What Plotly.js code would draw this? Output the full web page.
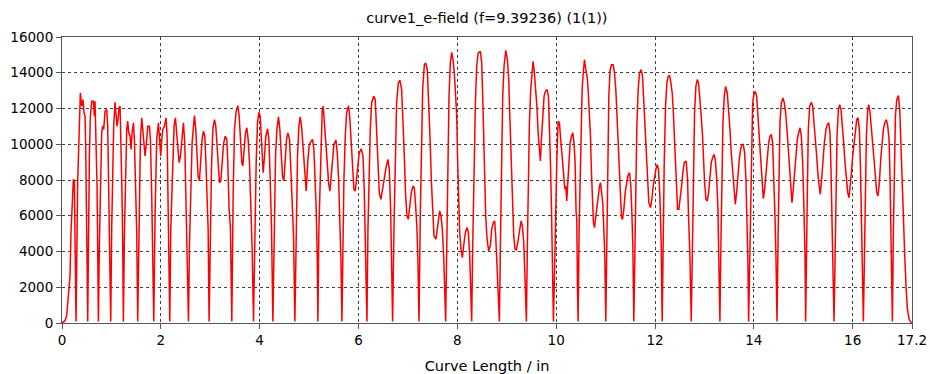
<!DOCTYPE html>
<html>
<head>
<meta charset="utf-8">
<script src="https://cdn.plot.ly/plotly-3.0.1.min.js"></script>
<style>html,body{margin:0;padding:0;background:#fff;}#chart{width:930px;height:374px;}</style>
</head>
<body>
<div id="chart"></div>
<script>
// Curve length (in), one line per lobe between field nulls
const curveLengthIn = [
  0, 0.061, 0.095, 0.128, 0.162, 0.182, 0.209, 0.230, 0.250, 0.263, 0.284,
  0.317, 0.344, 0.371, 0.398, 0.425, 0.446, 0.466, 0.479, 0.493, 0.506, 0.520,
  0.533, 0.554, 0.574, 0.601, 0.635, 0.655, 0.668, 0.689, 0.709, 0.722, 0.736,
  0.756, 0.783, 0.803, 0.824, 0.844, 0.871, 0.905, 0.925, 0.938, 0.959, 0.986,
  1.006, 1.026, 1.046, 1.073, 1.094, 1.114, 1.134, 1.154, 1.175, 1.195, 1.215, 1.229, 1.242,
  1.262, 1.283, 1.310, 1.330, 1.350, 1.377, 1.397, 1.418, 1.445, 1.465, 1.492, 1.512, 1.532,
  1.560, 1.587, 1.614, 1.634, 1.661, 1.681, 1.708, 1.735, 1.769, 1.789, 1.816, 1.836, 1.857,
  1.884, 1.917, 1.951, 1.978, 1.998, 2.019, 2.039, 2.073, 2.106, 2.127, 2.140, 2.160, 2.181,
  2.201, 2.235, 2.268, 2.295, 2.316, 2.343, 2.370, 2.397, 2.424, 2.457, 2.484, 2.511, 2.538, 2.559,
  2.579, 2.606, 2.633, 2.660, 2.680, 2.707, 2.727, 2.754, 2.781, 2.808, 2.835, 2.862, 2.890, 2.910, 2.930, 2.957, 2.977,
  2.997, 3.024, 3.052, 3.085, 3.112, 3.133, 3.160, 3.187, 3.214, 3.241, 3.268, 3.301, 3.335, 3.355, 3.382, 3.409, 3.436,
  3.463, 3.490, 3.524, 3.558, 3.585, 3.612, 3.639, 3.659, 3.686, 3.713, 3.740, 3.767, 3.794, 3.821, 3.848, 3.875,
  3.902, 3.929, 3.956, 3.983, 4.010, 4.030, 4.051, 4.071, 4.098, 4.125, 4.159, 4.186, 4.213, 4.240, 4.267,
  4.294, 4.321, 4.348, 4.381, 4.408, 4.435, 4.462, 4.489, 4.517, 4.544, 4.571, 4.604, 4.631, 4.658, 4.685, 4.712,
  4.739, 4.766, 4.793, 4.820, 4.847, 4.874, 4.901, 4.928, 4.942, 4.976, 5.003, 5.043, 5.070, 5.097, 5.124, 5.144, 5.165, 5.178,
  5.198, 5.219, 5.239, 5.266, 5.286, 5.313, 5.340, 5.367, 5.394, 5.421, 5.448, 5.475, 5.502, 5.543, 5.570, 5.597, 5.624, 5.644, 5.664,
  5.684, 5.705, 5.732, 5.759, 5.799, 5.826, 5.853, 5.880, 5.907, 5.934, 5.961, 5.988, 6.015, 6.056, 6.090, 6.116, 6.137, 6.150, 6.171,
  6.191, 6.211, 6.238, 6.265, 6.306, 6.339, 6.366, 6.393, 6.420, 6.454, 6.488, 6.522, 6.562, 6.596, 6.623, 6.650, 6.670, 6.690,
  6.717, 6.744, 6.771, 6.805, 6.839, 6.873, 6.900, 6.927, 6.954, 6.981, 7.008, 7.035, 7.068, 7.102, 7.129, 7.156, 7.183, 7.203, 7.224,
  7.251, 7.271, 7.298, 7.332, 7.359, 7.392, 7.419, 7.446, 7.473, 7.500, 7.527, 7.568, 7.602, 7.642, 7.669, 7.696, 7.723, 7.750, 7.764,
  7.791, 7.811, 7.831, 7.858, 7.885, 7.912, 7.939, 7.966, 7.987, 8.007, 8.027, 8.047, 8.074, 8.101, 8.128, 8.162, 8.196, 8.223, 8.250, 8.277, 8.290,
  8.311, 8.338, 8.365, 8.392, 8.419, 8.466, 8.493, 8.513, 8.533, 8.554, 8.574, 8.601, 8.635, 8.668, 8.695, 8.729, 8.756, 8.776, 8.803, 8.830, 8.851,
  8.871, 8.891, 8.918, 8.945, 8.979, 9.013, 9.040, 9.060, 9.087, 9.114, 9.141, 9.168, 9.195, 9.222, 9.256, 9.290, 9.316, 9.343, 9.370, 9.397,
  9.418, 9.438, 9.458, 9.485, 9.512, 9.532, 9.559, 9.586, 9.614, 9.634, 9.661, 9.681, 9.701, 9.728, 9.755, 9.782, 9.816, 9.843, 9.863, 9.884, 9.904, 9.924, 9.944,
  9.971, 9.992, 10.012, 10.039, 10.066, 10.086, 10.106, 10.127, 10.154, 10.174, 10.194, 10.214, 10.235, 10.255, 10.282, 10.309, 10.336, 10.363, 10.383, 10.403, 10.417, 10.430, 10.444,
  10.464, 10.484, 10.505, 10.525, 10.552, 10.572, 10.599, 10.626, 10.646, 10.673, 10.694, 10.714, 10.734, 10.754, 10.775, 10.802, 10.829, 10.849, 10.876, 10.896, 10.916, 10.943, 10.964, 10.984, 11.004,
  11.024, 11.045, 11.065, 11.092, 11.119, 11.153, 11.180, 11.207, 11.234, 11.254, 11.274, 11.295, 11.322, 11.342, 11.369, 11.396, 11.423, 11.450, 11.484, 11.511, 11.531, 11.551, 11.571,
  11.592, 11.612, 11.632, 11.659, 11.686, 11.720, 11.747, 11.767, 11.794, 11.821, 11.848, 11.875, 11.909, 11.936, 11.963, 11.990, 12.017, 12.044, 12.071, 12.098, 12.125, 12.145,
  12.166, 12.186, 12.213, 12.240, 12.267, 12.294, 12.321, 12.348, 12.368, 12.388, 12.415, 12.435, 12.456, 12.483, 12.510, 12.537, 12.564, 12.591, 12.631, 12.658, 12.678, 12.706, 12.733,
  12.753, 12.773, 12.800, 12.827, 12.854, 12.881, 12.908, 12.935, 12.962, 12.982, 13.003, 13.030, 13.057, 13.084, 13.111, 13.138, 13.165, 13.192, 13.219, 13.246, 13.273, 13.293, 13.313,
  13.333, 13.354, 13.374, 13.401, 13.428, 13.462, 13.489, 13.516, 13.543, 13.570, 13.597, 13.624, 13.651, 13.678, 13.705, 13.732, 13.759, 13.786, 13.813, 13.840, 13.867, 13.880, 13.894,
  13.914, 13.934, 13.954, 13.975, 14.002, 14.029, 14.056, 14.083, 14.110, 14.137, 14.164, 14.191, 14.218, 14.245, 14.272, 14.299, 14.326, 14.353, 14.380, 14.407, 14.427, 14.447, 14.468,
  14.488, 14.508, 14.528, 14.555, 14.589, 14.616, 14.643, 14.670, 14.697, 14.724, 14.751, 14.771, 14.798, 14.825, 14.852, 14.879, 14.906, 14.934, 14.961, 14.988, 15.015, 15.035, 15.048,
  15.062, 15.082, 15.102, 15.129, 15.163, 15.190, 15.217, 15.244, 15.271, 15.298, 15.325, 15.345, 15.372, 15.399, 15.426, 15.460, 15.487, 15.514, 15.541, 15.561, 15.581, 15.602, 15.622,
  15.642, 15.662, 15.683, 15.710, 15.737, 15.764, 15.791, 15.818, 15.845, 15.872, 15.899, 15.926, 15.953, 15.980, 16.000, 16.027, 16.054, 16.081, 16.108, 16.135, 16.155, 16.175, 16.196, 16.216,
  16.236, 16.256, 16.277, 16.304, 16.324, 16.351, 16.378, 16.405, 16.432, 16.459, 16.486, 16.513, 16.540, 16.567, 16.594, 16.621, 16.648, 16.682, 16.709, 16.736, 16.756, 16.776, 16.790, 16.803,
  16.824, 16.844, 16.864, 16.891, 16.925, 16.952, 16.972, 16.999, 17.026, 17.053, 17.080, 17.107, 17.141, 17.175, 17.2
];

// E-field magnitude, same lobe grouping
const eField = [
  0, 130, 410, 1530, 2640, 5060, 6360, 8040, 7940, 3760, 80,
  7850, 11010, 12870, 12130, 12500, 11760, 11570, 9900, 7850, 3760, 80,
  5430, 9340, 11570, 12410, 12410, 11570, 12410, 10270, 7660, 4320, 80,
  4320, 8590, 10640, 11010, 10830, 11850, 11940, 11010, 8970, 4130, 80,
  5430, 9710, 11010, 12350, 11850, 11010, 11380, 12030, 12130, 10270, 7110, 4320, 80,
  4870, 8410, 10830, 11290, 10640, 10450, 9710, 10640, 11200, 10270, 7110, 5060, 80,
  7110, 10270, 11480, 10830, 10080, 9340, 10080, 11010, 11010, 10270, 7110, 4320, 80,
  6180, 10270, 11200, 10270, 9340, 10270, 10830, 11010, 11480, 10450, 8040, 5250, 80,
  5250, 8970, 11010, 11480, 10830, 9900, 8970, 9340, 10270, 11200, 10080, 6550, 3760, 80,
  4320, 6730, 10080, 11010, 11610, 10830, 9340, 8220, 7940, 9340, 10270, 10730, 10450, 9150, 6730, 5250, 80,
  5250, 8590, 10830, 11380, 11010, 10080, 8970, 7850, 7940, 9150, 9990, 10450, 10270, 8970, 6360, 5250, 80,
  7110, 10830, 11850, 12160, 11570, 10080, 8970, 8780, 9710, 10640, 10920, 10270, 8970, 6730, 4130, 80,
  5250, 8970, 11200, 11790, 11570, 10270, 8780, 8410, 9340, 10450, 10860, 10270, 8040, 5250, 80,
  5620, 9340, 10830, 11530, 10830, 9340, 8220, 7940, 9340, 10270, 10640, 10270, 8590, 6730, 4870, 80,
  5250, 9340, 11010, 11530, 11010, 9900, 8590, 7480, 7380, 9150, 9990, 10170, 10270, 9710, 8040, 6360, 3570, 80,
  5250, 7110, 9900, 11940, 12130, 11200, 10080, 8970, 7850, 7380, 8220, 9340, 9990, 10230, 9520, 8040, 5620, 3570, 80,
  5250, 8040, 10450, 11760, 12160, 11380, 10080, 8780, 7480, 7380, 8220, 9150, 9520, 9750, 9340, 7480, 5250, 3570, 80,
  5250, 8040, 10830, 12310, 12690, 12500, 10830, 8590, 7290, 6920, 7480, 8220, 8780, 9150, 8590, 6360, 3570, 80,
  5250, 8970, 12310, 13430, 13580, 13060, 11570, 9340, 7110, 5990, 5800, 6360, 7290, 7660, 7570, 6550, 5250, 3390, 80,
  6180, 9900, 13060, 14450, 14550, 14170, 12690, 10450, 8040, 6180, 4870, 4690, 5430, 6270, 5990, 5250, 3760, 970, 80,
  5250, 8970, 12690, 14550, 15140, 14730, 13990, 12690, 11570, 8970, 6360, 5060, 4130, 3660, 4320, 5060, 5340, 5060, 3760, 1530, 80,
  4320, 8970, 12310, 14360, 15100, 15200, 14550, 12690, 9900, 7480, 5990, 4690, 4040, 4320, 5250, 5620, 5710, 4870, 3390, 1530, 80,
  4320, 8970, 12690, 14360, 15250, 14730, 13620, 11760, 8970, 6550, 4870, 4130, 4090, 4500, 5250, 5710, 5430, 4500, 2460, 80,
  4500, 8040, 11200, 13060, 14170, 14640, 13990, 13060, 11940, 10640, 9710, 9060, 10270, 11570, 12690, 12960, 13060, 12690, 11200, 8970, 6550, 3760, 80,
  3390, 6730, 8970, 11290, 11200, 10450, 9900, 8970, 8220, 7480, 7660, 6830, 8040, 8970, 10080, 10450, 10640, 9990, 8970, 6180, 5800, 2080, 80,
  5250, 8040, 11200, 13060, 14170, 14730, 14170, 13800, 13060, 11760, 10450, 8410, 6360, 5620, 5340, 5990, 6730, 7110, 7660, 7850, 7480, 6730, 5250, 3760, 80,
  4320, 8970, 12690, 14170, 14450, 14450, 13990, 13060, 11380, 9900, 8410, 6920, 5900, 5800, 6360, 7290, 7850, 8220, 8410, 7660, 6180, 4320, 80,
  4320, 8040, 11010, 13060, 13990, 14170, 13800, 12690, 11200, 9340, 7660, 6730, 6450, 6920, 7660, 8220, 8590, 8870, 8590, 7110, 4500, 80,
  5250, 8970, 12130, 13430, 13800, 13840, 13430, 12870, 11940, 10640, 8970, 7480, 6360, 6360, 6920, 7660, 8410, 8970, 9060, 8040, 5990, 3760, 80,
  4320, 8970, 11760, 13240, 13620, 13430, 12690, 11570, 10450, 8970, 7850, 6920, 6830, 7290, 8040, 8970, 9240, 9430, 9150, 8220, 6360, 3760, 80,
  4320, 8040, 11200, 12690, 13240, 12870, 11940, 10830, 9520, 8410, 7290, 6640, 7290, 8410, 9150, 9710, 9990, 9990, 9520, 8040, 5250, 3390, 80,
  3390, 7110, 9900, 12310, 12780, 12960, 12690, 11570, 10450, 8970, 7660, 6960, 7480, 8410, 9340, 10080, 10450, 10550, 10080, 8220, 5990, 3760, 80,
  4320, 8590, 11200, 12310, 12590, 12310, 11760, 10830, 9710, 8590, 7480, 6730, 7480, 8590, 9340, 10270, 10640, 10920, 10450, 8970, 6180, 3760, 80,
  4870, 7290, 10830, 12130, 12350, 12130, 11200, 10450, 9340, 8220, 7480, 7200, 8040, 9150, 10080, 10830, 11100, 11200, 10640, 8590, 6180, 3760, 80,
  3390, 7110, 10450, 11940, 12220, 11940, 11200, 10080, 8970, 8040, 7290, 7010, 7660, 8590, 9340, 10080, 10830, 11380, 11480, 10830, 8970, 6180, 3390, 80,
  3390, 7110, 10450, 11940, 12220, 11760, 11010, 10080, 9150, 8220, 7290, 7110, 7850, 9150, 10080, 10830, 11200, 11380, 11010, 10270, 8040, 5250, 2270, 80,
  5250, 8970, 11570, 12500, 12720, 11940, 10080, 7480, 5250, 3760, 1990, 780, 220, 40, 0
];

const xTickVals = [0, 2, 4, 6, 8, 10, 12, 14, 16, 17.2];
const xTickText = ['0', '2', '4', '6', '8', '10', '12', '14', '16', '17.2'];
const yTickVals = [0, 2000, 4000, 6000, 8000, 10000, 12000, 14000, 16000];
const yTickText = ['0', '2000', '4000', '6000', '8000', '10000', '12000', '14000', '16000'];

const family = 'DejaVu Sans, Liberation Sans, sans-serif';
const tickFont = {family: family, size: 13.5, color: '#000'};
const titleFont = {family: family, size: 14.5, color: '#000'};

const trace = {
  x: curveLengthIn,
  y: eField,
  type: 'scatter',
  mode: 'lines',
  line: {color: '#ff0000', width: 1.5},
  hoverinfo: 'x+y'
};

const axisCommon = {
  showgrid: true,
  gridcolor: '#404040',
  gridwidth: 1,
  griddash: '3px,3px',
  showline: true,
  mirror: true,
  linecolor: '#555',
  linewidth: 1,
  ticks: 'outside',
  ticklen: 5,
  tickcolor: '#555',
  zeroline: false,
  tickfont: tickFont
};

const layout = {
  width: 930,
  height: 374,
  margin: {l: 62, r: 18, t: 37, b: 51},
  paper_bgcolor: '#fff',
  plot_bgcolor: '#fff',
  showlegend: false,
  title: {
    text: 'curve1_e-field (f=9.39236) (1(1))',
    font: titleFont,
    x: 0.5235, xanchor: 'center',
    y: 1 - 18 / 374, yanchor: 'middle'
  },
  xaxis: Object.assign({}, axisCommon, {
    range: [0, 17.2],
    tickmode: 'array',
    tickvals: xTickVals,
    ticktext: xTickText,
    title: {text: 'Curve Length / in', font: titleFont, standoff: 13}
  }),
  yaxis: Object.assign({}, axisCommon, {
    range: [0, 16000],
    tickmode: 'array',
    tickvals: yTickVals,
    ticktext: yTickText
  })
};

Plotly.newPlot('chart', [trace], layout, {displayModeBar: false, staticPlot: true});
</script>
</body>
</html>
